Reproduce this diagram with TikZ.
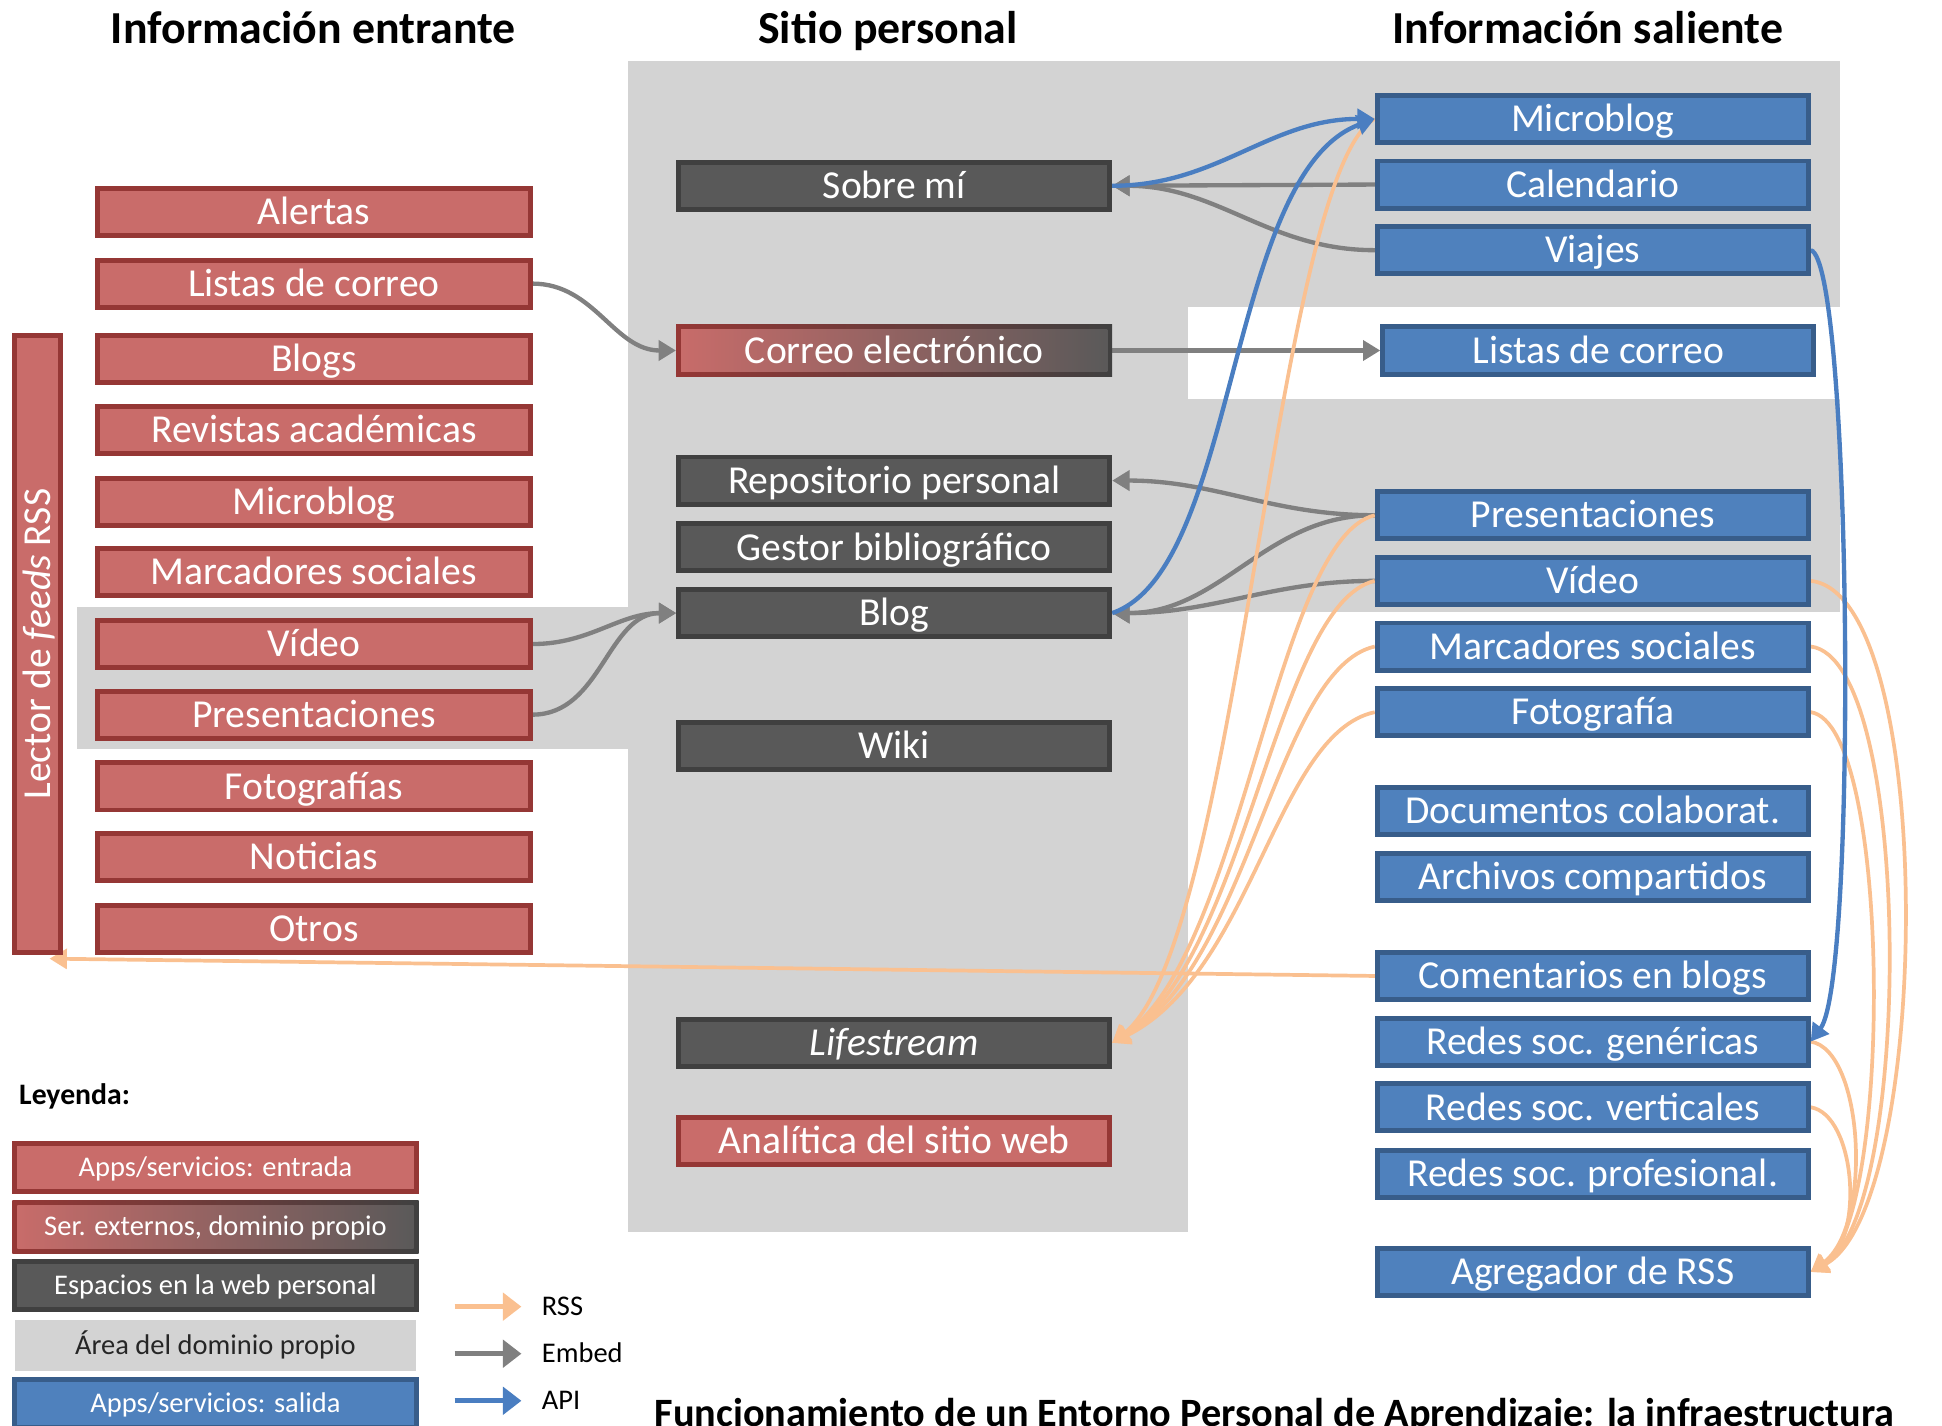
\documentclass[tikz,border=0pt]{standalone}
\usepackage{fontspec}
\setmainfont{Carlito}
\usetikzlibrary{arrows.meta,calc}
\pgfdeclarelayer{bg}
\pgfdeclarelayer{edges}
\pgfsetlayers{bg,edges,main}
\definecolor{redfill}{RGB}{201,108,106}
\definecolor{redborder}{RGB}{149,55,53}
\definecolor{darkfill}{RGB}{89,89,89}
\definecolor{darkborder}{RGB}{64,64,64}
\definecolor{bluefill}{RGB}{79,129,189}
\definecolor{blueborder}{RGB}{56,93,138}
\definecolor{areagray}{RGB}{211,211,211}
\definecolor{embedgray}{RGB}{128,128,128}
\definecolor{rssorange}{RGB}{250,192,144}
\definecolor{apiblue}{RGB}{74,126,193}
\tikzset{
  boxtext/.style={font=\fontsize{32}{36}\selectfont, text height=20.6pt, text depth=0pt},
  box/.style={rectangle, line width=4pt, inner sep=0pt, text=white, boxtext, minimum height=38pt},
  inbox/.style={box, fill=redfill, draw=redborder, minimum width=349pt},
  sitebox/.style={box, fill=darkfill, draw=darkborder, minimum width=348pt},
  outbox/.style={box, fill=bluefill, draw=blueborder, minimum width=348pt},
  mixbox/.style={rectangle, inner sep=0pt, text=white, left color=redborder, right color=darkborder,
    path picture={\shade[left color=redfill, right color=darkfill]
      ([shift={(4pt,-4pt)}]path picture bounding box.north west) rectangle
      ([shift={(-4pt,4pt)}]path picture bounding box.south east);}},
  title/.style={anchor=base, font=\fontsize{37}{40}\selectfont\bfseries, text=black},
  legtext/.style={font=\fontsize{23}{26}\selectfont, text height=14.8pt, text depth=0pt},
  legbox/.style={minimum width=324pt, minimum height=39pt, legtext},
  leglabel/.style={anchor=west, legtext, text=black},
  embed/.style={draw=embedgray, line width=3.5pt, -{Triangle[length=14pt,width=16pt]}},
  api/.style={draw=apiblue, line width=3.5pt, -{Triangle[length=14pt,width=16pt]}},
  rss/.style={draw=rssorange, line width=3pt, -{Triangle[length=14pt,width=16pt]}},
  legarrow/.style={line width=4pt, -{Triangle[length=15pt,width=22pt]}}
}
\begin{document}
\begin{tikzpicture}[x=1pt,y=-1pt]
\useasboundingbox (0,0) rectangle (1568,1151);

% background areas
\begin{pgfonlayer}{bg}
\fill[areagray] (507,49) rectangle (959,995);
\fill[areagray] (959,49) rectangle (1486,248);
\fill[areagray] (959,322) rectangle (1486,494);
\fill[areagray] (62,490) rectangle (507,605);
\end{pgfonlayer}

% titles
\node[title] (t1) at (253,35) {Información entrante};
\node[title] (t2) at (717,35) {Sitio personal};
\node[title] (t3) at (1282,35) {Información saliente};

% incoming
\node[inbox] (lalert) at (253.5,171) {Alertas};
\node[inbox] (lcorreo) at (253.5,229) {Listas de correo};
\node[inbox] (lblogs) at (253.5,290) {Blogs};
\node[inbox] (lrevistas) at (253.5,347) {Revistas académicas};
\node[inbox] (lmicro) at (253.5,405) {Microblog};
\node[inbox] (lmarc) at (253.5,462) {Marcadores sociales};
\node[inbox] (lvideo) at (253.5,520) {Vídeo};
\node[inbox] (lpres) at (253.5,577) {Presentaciones};
\node[inbox] (lfoto) at (253.5,635) {Fotografías};
\node[inbox] (lnoticias) at (253.5,692) {Noticias};
\node[inbox] (lotros) at (253.5,750) {Otros};
\node[inbox, rotate=90, minimum width=498pt, minimum height=37pt] (lector) at (30.5,520) {Lector de \textit{feeds} RSS};

% personal site
\node[sitebox] (sobre) at (722,150) {Sobre mí};
\node[mixbox, boxtext, minimum width=352pt, minimum height=42pt] (correo) at (722,283) {Correo electrónico};
\node[sitebox] (repo) at (722,388) {Repositorio personal};
\node[sitebox] (gestor) at (722,442) {Gestor bibliográfico};
\node[sitebox] (blog) at (722,495) {Blog};
\node[sitebox] (wiki) at (722,602) {Wiki};
\node[sitebox] (life) at (722,842) {\textit{Lifestream}};
\node[inbox, minimum width=348pt] (analitica) at (722,921) {Analítica del sitio web};

% outgoing
\node[outbox] (rmicro) at (1286,96) {Microblog};
\node[outbox] (rcal) at (1286,149) {Calendario};
\node[outbox] (rviajes) at (1286,202) {Viajes};
\node[outbox] (rlistas) at (1290.5,283) {Listas de correo};
\node[outbox] (rpres) at (1286,416) {Presentaciones};
\node[outbox] (rvideo) at (1286,469) {Vídeo};
\node[outbox] (rmarc) at (1286,522) {Marcadores sociales};
\node[outbox] (rfoto) at (1286,575) {Fotografía};
\node[outbox] (rdocs) at (1286,655) {Documentos colaborat.};
\node[outbox] (rarch) at (1286,708) {Archivos compartidos};
\node[outbox] (rcom) at (1286,788) {Comentarios en blogs};
\node[outbox] (rgen) at (1286,841) {Redes soc. genéricas};
\node[outbox] (rvert) at (1286,894) {Redes soc. verticales};
\node[outbox] (rprof) at (1286,948) {Redes soc. profesional.};
\node[outbox] (ragr) at (1286,1027) {Agregador de RSS};

% legend
\node[anchor=base west, font=\fontsize{24}{26}\selectfont\bfseries] (leyenda) at (12,892) {Leyenda:};
\node[box, legbox, fill=redfill, draw=redborder] (leg1) at (174,942.5) {Apps/servicios: entrada};
\node[mixbox, legtext, minimum width=328pt, minimum height=43pt] (leg2) at (174,990.5) {Ser. externos, dominio propio};
\node[box, legbox, fill=darkfill, draw=darkborder] (leg3) at (174,1038) {Espacios en la web personal};
\node[rectangle, fill=areagray, minimum width=324pt, minimum height=41pt, text=black!85, legtext] (leg4) at (174,1086.5) {Área del dominio propio};
\node[box, legbox, fill=bluefill, draw=blueborder] (leg5) at (174,1133) {Apps/servicios: salida};
\coordinate (la1) at (367,1055);
\coordinate (lb1) at (421,1055);
\coordinate (la2) at (367,1093);
\coordinate (lb2) at (421,1093);
\coordinate (la3) at (367,1131);
\coordinate (lb3) at (421,1131);
\draw[legarrow, draw=rssorange] (la1) -- (lb1);
\draw[legarrow, draw=embedgray] (la2) -- (lb2);
\draw[legarrow, draw=apiblue] (la3) -- (lb3);
\node[leglabel] (lrss) at (434,1055) {RSS};
\node[leglabel] (lemb) at (434,1093) {Embed};
\node[leglabel] (lapi) at (434,1131) {API};

% caption (cut by the page edge, as in the reference)
\node[anchor=base west, font=\fontsize{32.5}{36}\selectfont\bfseries] (caption) at (525,1152) {Funcionamiento de un Entorno Personal de Aprendizaje: la infraestructura};

\coordinate (bartip) at (40,774);

\begin{pgfonlayer}{edges}
% embed
\draw[embed] (lcorreo.east) to[out=0,in=180] (correo.west);
\draw[embed] (lvideo.east) to[out=0,in=180] (blog.west);
\draw[embed] (lpres.east) to[out=0,in=180] (blog.west);
\draw[embed] (correo.east) -- (rlistas.west);
\draw[embed] (rcal.west) -- (sobre.east);
\draw[embed] (rviajes.west) to[out=180,in=0] (sobre.east);
\draw[embed] (rpres.west) to[out=180,in=0] (repo.east);
\draw[embed] (rpres.west) to[out=180,in=0] (blog.east);
\draw[embed] (rvideo.west) to[out=180,in=0] (blog.east);
% rss to lifestream
\draw[rss] (rmicro.west) .. controls (1030,140) and (1000,760) .. (life.east);
\draw[rss] (rpres.west) .. controls (1030,435) and (1003,770) .. (life.east);
\draw[rss] (rvideo.west) .. controls (1030,488) and (1006,775) .. (life.east);
\draw[rss] (rmarc.west) .. controls (1030,540) and (1009,780) .. (life.east);
\draw[rss] (rfoto.west) .. controls (1030,592) and (1012,785) .. (life.east);
% rss to lector
\draw[rss] (rcom.west) -- (bartip);
% rss to agregador
\draw[rss] (rvideo.east) .. controls (1565,480) and (1560,975) .. (ragr.east);
\draw[rss] (rmarc.east) .. controls (1545,532) and (1545,980) .. (ragr.east);
\draw[rss] (rfoto.east) .. controls (1528,585) and (1528,985) .. (ragr.east);
\draw[rss] (rgen.east) .. controls (1505,848) and (1512,990) .. (ragr.east);
\draw[rss] (rvert.east) .. controls (1498,900) and (1506,1000) .. (ragr.east);
% api
\draw[api] (sobre.east) to[out=0,in=180] (rmicro.west);
\draw[api] (blog.east) .. controls (1000,460) and (990,140) .. (rmicro.west);
\draw[api] (rviajes.east) .. controls (1495,210) and (1500,790) .. (rgen.east);
\end{pgfonlayer}
\end{tikzpicture}
\end{document}
